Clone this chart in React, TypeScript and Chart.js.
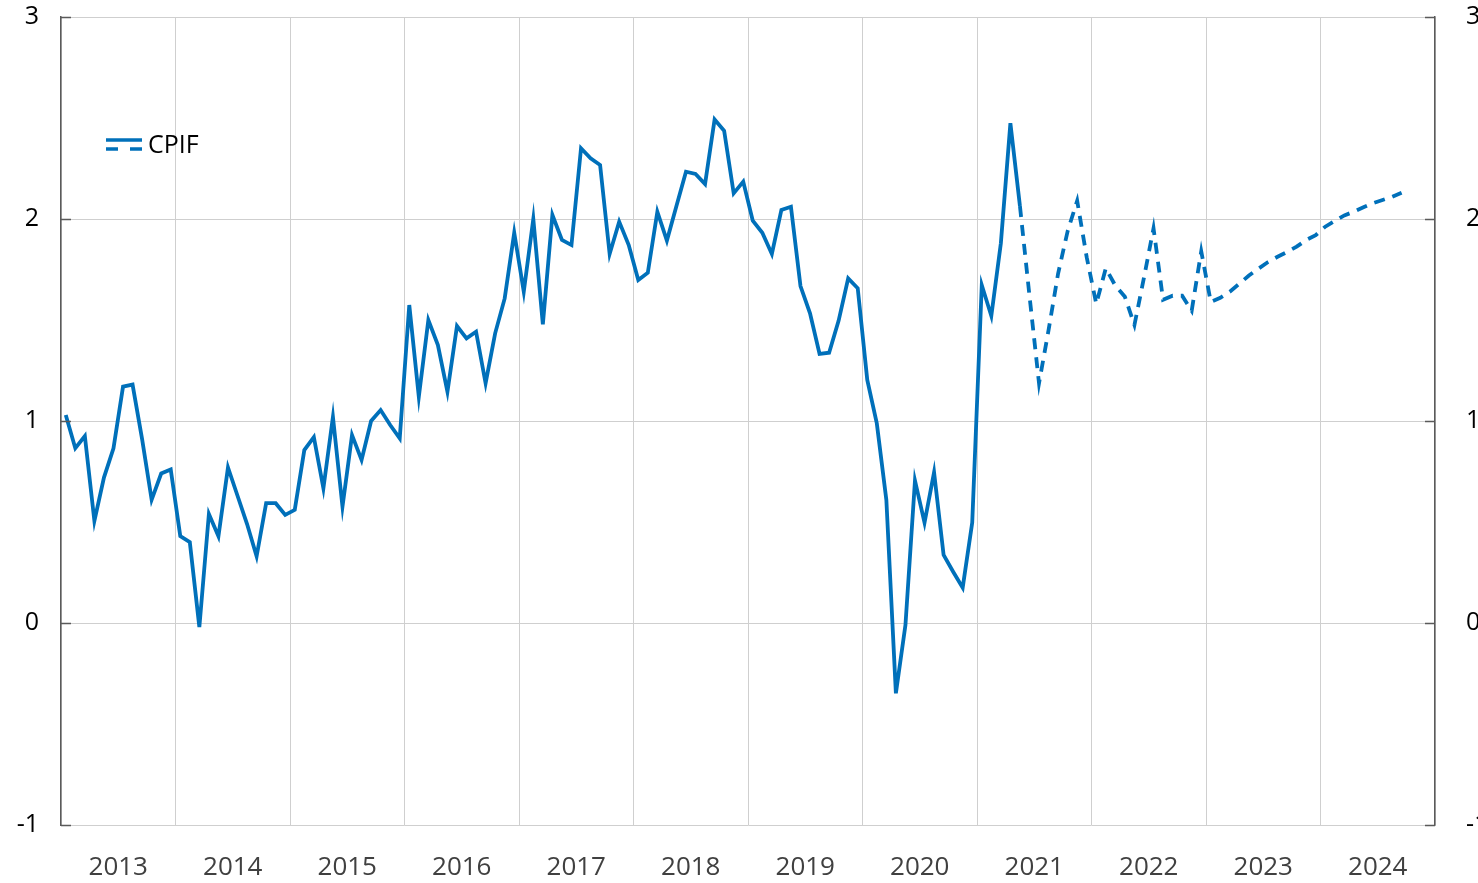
import React, { useEffect, useRef } from "react";
import { Chart, registerables } from "chart.js";

Chart.register(...registerables);

const years = ["2013", "2014", "2015", "2016", "2017", "2018", "2019", "2020", "2021", "2022", "2023", "2024"];
const yTicks = [-1, 0, 1, 2, 3];

// Monthly CPIF outcomes, Jan 2013 - May 2021
const actual2013 = [1.03, 0.865, 0.925, 0.505, 0.72, 0.865, 1.17, 1.18, 0.91, 0.61, 0.74, 0.76];
const actual2014 = [0.43, 0.4, -0.02, 0.54, 0.43, 0.77, 0.63, 0.49, 0.33, 0.593, 0.593, 0.535];
const actual2015 = [0.56, 0.856, 0.92, 0.667, 1.02, 0.576, 0.93, 0.807, 1.0, 1.054, 0.98, 0.914];
const actual2016 = [1.574, 1.12, 1.5, 1.376, 1.145, 1.47, 1.409, 1.442, 1.187, 1.434, 1.607, 1.932];
const actual2017 = [1.64, 2.0, 1.479, 2.02, 1.896, 1.871, 2.35, 2.3, 2.267, 1.827, 1.987, 1.871];
const actual2018 = [1.698, 1.734, 2.036, 1.893, 2.064, 2.234, 2.223, 2.173, 2.493, 2.437, 2.127, 2.185];
const actual2019 = [1.992, 1.932, 1.827, 2.045, 2.061, 1.668, 1.533, 1.332, 1.338, 1.497, 1.706, 1.657];
const actual2020 = [1.203, 0.988, 0.609, -0.348, -0.01, 0.705, 0.497, 0.746, 0.337, 0.254, 0.175, 0.497];
const actual2021 = [1.673, 1.52, 1.88, 2.474, 2.064];

// Forecast, May 2021 - Sep 2024
const forecast2021 = [2.064, 1.62, 1.187, 1.45, 1.73, 1.94, 2.09, 1.81];
const forecast2022 = [1.58, 1.756, 1.67, 1.615, 1.475, 1.71, 1.954, 1.6, 1.62, 1.62, 1.546, 1.84];
const forecast2023 = [1.59, 1.61, 1.64, 1.68, 1.72, 1.754, 1.787, 1.813, 1.837, 1.863, 1.896, 1.92];
const forecast2024 = [1.962, 1.99, 2.018, 2.036, 2.058, 2.078, 2.094, 2.11, 2.13];

const actual = [
  ...actual2013, ...actual2014, ...actual2015, ...actual2016, ...actual2017,
  ...actual2018, ...actual2019, ...actual2020, ...actual2021,
];
const forecast = [...forecast2021, ...forecast2022, ...forecast2023, ...forecast2024];
const forecastStart = actual.length - 1;

const BLUE = "#0070BA";
const GRID = "#cfcfcf";
const AXIS = "#5a5a5a";
const FONT = '"Open Sans", "Liberation Sans", sans-serif';

const innerTicksAndLegend = {
  id: "innerTicksAndLegend",
  afterDraw(chart: any) {
    const { ctx, chartArea, scales } = chart;
    const y = scales.y;
    ctx.save();
    ctx.strokeStyle = AXIS;
    ctx.lineWidth = 1.5;
    yTicks.forEach((v) => {
      const py = Math.round(y.getPixelForValue(v)) + 0.5;
      ctx.beginPath();
      ctx.moveTo(chartArea.left, py);
      ctx.lineTo(chartArea.left + 10, py);
      ctx.moveTo(chartArea.right - 10, py);
      ctx.lineTo(chartArea.right, py);
      ctx.stroke();
    });
    // legend
    const lx = chartArea.left + 45;
    ctx.strokeStyle = BLUE;
    ctx.lineWidth = 3.5;
    ctx.beginPath();
    ctx.moveTo(lx, 140);
    ctx.lineTo(lx + 36, 140);
    ctx.stroke();
    ctx.setLineDash([12, 12]);
    ctx.beginPath();
    ctx.moveTo(lx, 149);
    ctx.lineTo(lx + 36, 149);
    ctx.stroke();
    ctx.setLineDash([]);
    ctx.fillStyle = "#000";
    ctx.font = `25px ${FONT}`;
    ctx.textBaseline = "middle";
    ctx.textAlign = "left";
    ctx.fillText("CPIF", lx + 42, 146);
    ctx.restore();
  },
};

const fixVertical = (width: number) => (scale: any) => {
  scale.width = width;
  scale.paddingTop = 0;
  scale.paddingBottom = 0;
};

export default function App() {
  const ref = useRef<HTMLCanvasElement>(null);

  useEffect(() => {
    if (!ref.current) return;
    const chart = new Chart(ref.current, {
      type: "line",
      data: {
        datasets: [
          {
            label: "CPIF",
            data: actual.map((v, i) => ({ x: i + 0.5, y: v })),
            borderColor: BLUE,
            borderWidth: 3.8,
            pointRadius: 0,
            tension: 0,
            fill: false,
          },
          {
            label: "CPIF prognos",
            data: forecast.map((v, i) => ({ x: forecastStart + i + 0.5, y: v })),
            borderColor: BLUE,
            borderWidth: 3.8,
            borderDash: [11, 8],
            pointRadius: 0,
            tension: 0,
            fill: false,
          },
        ],
      },
      options: {
        responsive: false,
        animation: false,
        layout: { padding: { top: 17, left: 0, right: 0, bottom: 0 } },
        plugins: { legend: { display: false }, tooltip: { enabled: false } },
        scales: {
          x: {
            type: "linear",
            min: 0,
            max: years.length * 12,
            afterBuildTicks: (scale: any) => {
              scale.ticks = [...years.map((_, i) => ({ value: i * 12 })), { value: years.length * 12 }];
            },
            afterFit: (scale: any) => {
              scale.height = 58;
              scale.paddingLeft = 0;
              scale.paddingRight = 0;
            },
            ticks: {
              autoSkip: false,
              maxRotation: 0,
              labelOffset: 57.25,
              padding: 27,
              color: "#404040",
              font: { family: FONT, size: 26 },
              callback: (v: any) => {
                const i = Math.round(Number(v) / 12);
                return i < years.length ? years[i] : "";
              },
            },
            grid: { color: GRID, lineWidth: 1, drawTicks: false },
            border: { display: false },
          },
          y: {
            position: "left",
            min: -1,
            max: 3,
            afterBuildTicks: (scale: any) => {
              scale.ticks = yTicks.map((v) => ({ value: v }));
            },
            afterFit: fixVertical(61),
            ticks: {
              padding: 22,
              color: "#000",
              font: { family: FONT, size: 25 },
              callback: (v: any) => String(v),
            },
            grid: { color: GRID, lineWidth: 1, drawTicks: false },
            border: { display: true, color: AXIS, width: 1.5 },
          },
          y2: {
            position: "right",
            min: -1,
            max: 3,
            afterBuildTicks: (scale: any) => {
              scale.ticks = yTicks.map((v) => ({ value: v }));
            },
            afterFit: fixVertical(43),
            ticks: {
              padding: 31,
              color: "#000",
              font: { family: FONT, size: 25 },
              callback: (v: any) => String(v),
            },
            grid: { display: true, drawOnChartArea: false, drawTicks: false },
            border: { display: true, color: AXIS, width: 1.5 },
          },
        },
      },
      plugins: [innerTicksAndLegend],
    });
    return () => chart.destroy();
  }, []);

  return (
    <div style={{ position: "absolute", left: 0, top: 0, width: 1478, height: 883, background: "#fff" }}>
      <canvas ref={ref} width={1478} height={883} style={{ display: "block" }} />
    </div>
  );
}
